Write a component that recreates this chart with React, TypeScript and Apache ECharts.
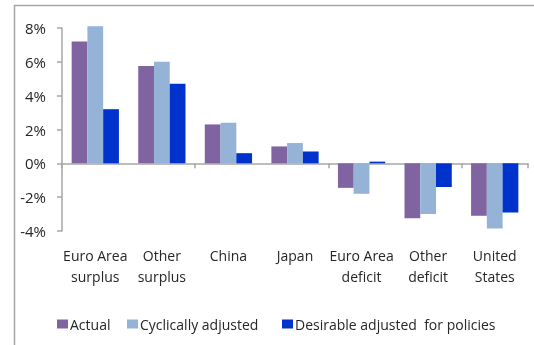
import React, { useEffect, useRef } from "react";
import * as echarts from "echarts";

const categories = [
  "Euro Area\nsurplus",
  "Other\nsurplus",
  "China",
  "Japan",
  "Euro Area\ndeficit",
  "Other\ndeficit",
  "United\nStates",
];
const actual = [7.2, 5.75, 2.3, 1.0, -1.45, -3.25, -3.1];
const cyclicallyAdjusted = [8.1, 6.0, 2.4, 1.2, -1.8, -3.0, -3.85];
const desirableAdjusted = [3.2, 4.7, 0.6, 0.7, 0.1, -1.4, -2.9];

const seriesNames = ["Actual", "Cyclically adjusted", "Desirable adjusted  for policies"];
const seriesColors = ["#8064A2", "#95B3D7", "#0033CC"];
const legendLefts = [57, 127, 282];

const FONT = "'Open Sans', 'Noto Sans', sans-serif";
const TEXT = "#262626";
const AXIS = "#a6a6a6";

export default function App() {
  const ref = useRef<HTMLDivElement>(null);

  useEffect(() => {
    if (!ref.current) return;
    const chart = echarts.init(ref.current, undefined, { renderer: "svg" });
    const values = [actual, cyclicallyAdjusted, desirableAdjusted];
    chart.setOption({
      animation: false,
      textStyle: { fontFamily: FONT, color: TEXT },
      graphic: [
        {
          type: "rect",
          shape: { x: 14.5, y: 5.5, width: 600, height: 400 },
          style: { fill: "none", stroke: AXIS, lineWidth: 1.5 },
          silent: true,
        },
      ],
      grid: { left: 62, right: 6, top: 28, bottom: 114, containLabel: false },
      legend: seriesNames.map((name, i) => ({
        left: legendLefts[i],
        top: 317,
        padding: 0,
        itemWidth: 11,
        itemHeight: 9,
        icon: "rect",
        selectedMode: false,
        textStyle: { fontFamily: FONT, fontSize: 14, color: TEXT, padding: [0, 0, 0, -3] },
        data: [name],
      })),
      xAxis: [
        {
          type: "category",
          data: categories,
          axisLine: { onZero: true, lineStyle: { color: AXIS, width: 1.5 } },
          axisTick: { show: true, length: 5, lineStyle: { color: AXIS, width: 1.5 } },
          axisLabel: { show: false },
        },
        {
          type: "category",
          data: categories,
          position: "bottom",
          axisLine: { show: false },
          axisTick: { show: false },
          axisLabel: {
            interval: 0,
            margin: 14,
            fontFamily: FONT,
            fontSize: 14,
            lineHeight: 21,
            color: TEXT,
          },
        },
      ],
      yAxis: {
        type: "value",
        min: -4,
        max: 8,
        interval: 2,
        splitLine: { show: false },
        axisLine: { show: true, lineStyle: { color: AXIS, width: 1.5 } },
        axisTick: { show: true, length: 5, lineStyle: { color: AXIS, width: 1.5 } },
        axisLabel: {
          formatter: "{value}%",
          fontFamily: FONT,
          fontSize: 15,
          color: TEXT,
          margin: 16,
        },
      },
      series: seriesNames.map((name, i) => ({
        type: "bar",
        name,
        data: values[i],
        xAxisIndex: 0,
        barGap: "0%",
        barCategoryGap: "29%",
        clip: false,
        itemStyle: { color: seriesColors[i] },
      })),
    });
    return () => chart.dispose();
  }, []);

  return <div ref={ref} style={{ width: 534, height: 345, position: "fixed", left: 0, top: 0 }} />;
}
